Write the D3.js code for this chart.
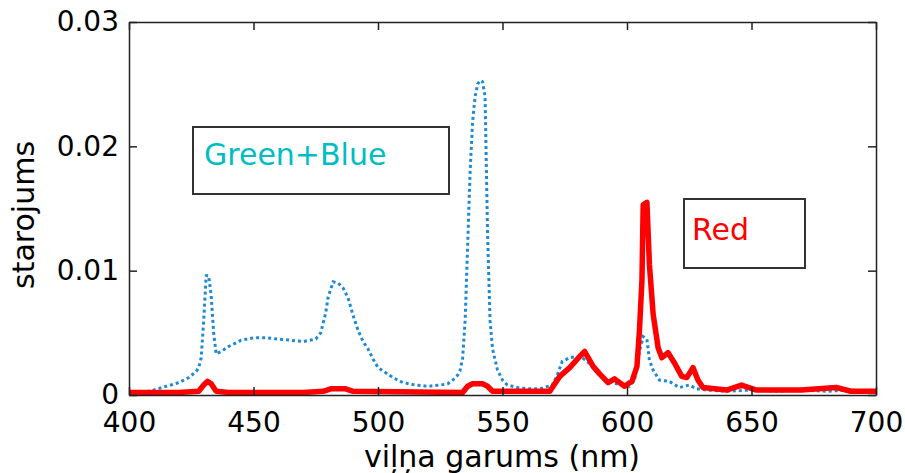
<!DOCTYPE html>
<html>
<head>
<meta charset="utf-8">
<script src="https://cdn.jsdelivr.net/npm/d3@7"></script>
<style>
  body { margin: 0; background: #fff; }
  svg { display: block; font-family: "DejaVu Sans", sans-serif; }
</style>
</head>
<body>
<div id="main"></div>
<script>
// wavelength (nm) and value pairs
const blueNm = [400, 405, 410, 415, 420, 424, 427, 428, 429, 430, 431, 432, 433, 434, 435, 437, 440, 445, 450, 455, 460, 465, 470, 475, 477, 479, 480, 482, 484, 486, 488, 490, 492, 494, 496, 498, 500, 503, 506, 510, 515, 520, 525, 528, 530, 532, 533, 534, 535, 536, 537, 538, 539, 540, 541, 542, 543, 544, 545, 546, 548, 550, 552, 556, 560, 565, 570, 572, 574, 577, 580, 582, 584, 586, 588, 591, 594, 598, 601, 603, 604, 605, 606.5, 608, 609, 610.5, 613, 617, 621, 625, 628, 632, 640, 650, 660, 670, 680, 690, 700];
const blueVal = [0.0001, 0.0002, 0.0004, 0.0007, 0.001, 0.0014, 0.0019, 0.0022, 0.003, 0.006, 0.0096, 0.0096, 0.008, 0.005, 0.0033, 0.0035, 0.0039, 0.0044, 0.0046, 0.0046, 0.0045, 0.0044, 0.0043, 0.0045, 0.005, 0.0066, 0.0079, 0.0091, 0.009, 0.0086, 0.0078, 0.0064, 0.0052, 0.0043, 0.0037, 0.0029, 0.0022, 0.0018, 0.0014, 0.001, 0.0008, 0.0007, 0.0008, 0.0009, 0.0012, 0.0016, 0.002, 0.003, 0.006, 0.012, 0.018, 0.022, 0.024, 0.025, 0.0253, 0.0252, 0.024, 0.013, 0.006, 0.0037, 0.002, 0.0012, 0.0008, 0.0006, 0.0005, 0.0005, 0.0008, 0.0016, 0.0027, 0.003, 0.0031, 0.003, 0.0027, 0.0023, 0.0019, 0.0012, 0.001, 0.0008, 0.0007, 0.0012, 0.0023, 0.0035, 0.0047, 0.0045, 0.0028, 0.002, 0.0012, 0.0011, 0.0006, 0.0008, 0.0005, 0.0004, 0.0003, 0.0004, 0.0003, 0.0004, 0.0003, 0.0004, 0.0003];

const redNm = [400, 420, 428, 430, 431.5, 433, 435, 440, 470, 478, 481, 487, 490, 534, 536, 538, 542, 544, 546, 569, 573, 577, 581, 583, 586.4, 589, 592.4, 595, 599, 602, 604, 605, 606, 606.5, 608, 609, 610.5, 612.5, 614, 616.5, 619, 622, 624, 626.5, 628.5, 630.5, 640, 646, 652, 670, 684, 690, 700];
const redVal = [0.0002, 0.0002, 0.0003, 0.0008, 0.0011, 0.0009, 0.0003, 0.0002, 0.0002, 0.0003, 0.0005, 0.0005, 0.0003, 0.0002, 0.0007, 0.0009, 0.0009, 0.0007, 0.0003, 0.0003, 0.0015, 0.0022, 0.0031, 0.0035, 0.0023, 0.0017, 0.001, 0.0013, 0.0007, 0.0011, 0.0023, 0.0052, 0.0092, 0.0153, 0.0155, 0.0105, 0.0065, 0.0038, 0.003, 0.0034, 0.0026, 0.0015, 0.0014, 0.0022, 0.0012, 0.0006, 0.0004, 0.0008, 0.0004, 0.0004, 0.0006, 0.0003, 0.0003];

const xTicks = [400, 450, 500, 550, 600, 650, 700];
const yTicks = [0, 0.01, 0.02, 0.03];
const legendLabels = ["Green+Blue", "Red"];

const width = 905, height = 473;
const plotL = 129, plotR = 876, plotT = 22, plotB = 395;

let svg = d3.select("#main").append("svg")
    .attr("width", width)
    .attr("height", height);

const x = d3.scaleLinear().domain([400, 700]).range([plotL, plotR]);
const y = d3.scaleLinear().domain([0, 0.03]).range([plotB, plotT]);

svg.append("defs").append("clipPath")
    .attr("id", "plot")
    .append("rect")
    .attr("x", plotL).attr("y", plotT)
    .attr("width", plotR - plotL).attr("height", plotB - plotT);

const line = d3.line()
    .x(d => x(d[0]))
    .y(d => y(d[1]));

const blue = d3.zip(blueNm, blueVal);
const red = d3.zip(redNm, redVal);

svg.append("path")
    .datum(blue)
    .attr("clip-path", "url(#plot)")
    .attr("fill", "none")
    .attr("stroke", "#1f8ad4")
    .attr("stroke-width", 3)
    .attr("stroke-dasharray", "3,3")
    .attr("d", line);

svg.append("path")
    .datum(red)
    .attr("clip-path", "url(#plot)")
    .attr("fill", "none")
    .attr("stroke", "#ff0000")
    .attr("stroke-width", 5.5)
    .attr("stroke-linejoin", "round")
    .attr("d", line);

// axes: ticks pointing inward on all four sides
const tickLen = 8;
svg.append("g")
    .attr("transform", `translate(0,${plotB})`)
    .call(d3.axisBottom(x).tickValues(xTicks).tickSize(-tickLen).tickPadding(17).tickSizeOuter(0))
    .call(g => g.selectAll("text").attr("font-size", 28).attr("font-family", "DejaVu Sans").attr("fill", "#000"));
svg.append("g")
    .attr("transform", `translate(0,${plotT})`)
    .call(d3.axisTop(x).tickValues(xTicks).tickSize(-tickLen).tickFormat("").tickSizeOuter(0));
svg.append("g")
    .attr("transform", `translate(${plotL},0)`)
    .call(d3.axisLeft(y).tickValues(yTicks).tickSize(-tickLen).tickPadding(10).tickSizeOuter(0)
        .tickFormat(d => d === 0 ? "0" : d3.format(".2f")(d)))
    .call(g => g.selectAll("text").attr("font-size", 28).attr("font-family", "DejaVu Sans").attr("fill", "#000"));
svg.append("g")
    .attr("transform", `translate(${plotR},0)`)
    .call(d3.axisRight(y).tickValues(yTicks).tickSize(-tickLen).tickFormat("").tickSizeOuter(0));

svg.selectAll(".domain, .tick line")
    .attr("stroke", "#222")
    .attr("stroke-width", 1.5);

// axis titles
svg.append("text")
    .attr("x", 502).attr("y", 467)
    .attr("text-anchor", "middle")
    .attr("font-size", 30)
    .text("viļņa garums (nm)");

svg.append("text")
    .attr("transform", "translate(34,215) rotate(-90)")
    .attr("text-anchor", "middle")
    .attr("font-size", 30)
    .text("starojums");

// text boxes
const boxes = [
    {x: 193, y: 127, w: 256, h: 67, tx: 204, ty: 165, color: "#00bcc4"},
    {x: 684, y: 199, w: 121, h: 69, tx: 692, ty: 240, color: "#ff0000"}
];
boxes.forEach((b, i) => {
    svg.append("rect")
        .attr("x", b.x).attr("y", b.y)
        .attr("width", b.w).attr("height", b.h)
        .attr("fill", "#fff")
        .attr("stroke", "#333")
        .attr("stroke-width", 2);
    svg.append("text")
        .attr("x", b.tx).attr("y", b.ty)
        .attr("font-size", 30)
        .attr("fill", b.color)
        .text(legendLabels[i]);
});
</script>
</body>
</html>
